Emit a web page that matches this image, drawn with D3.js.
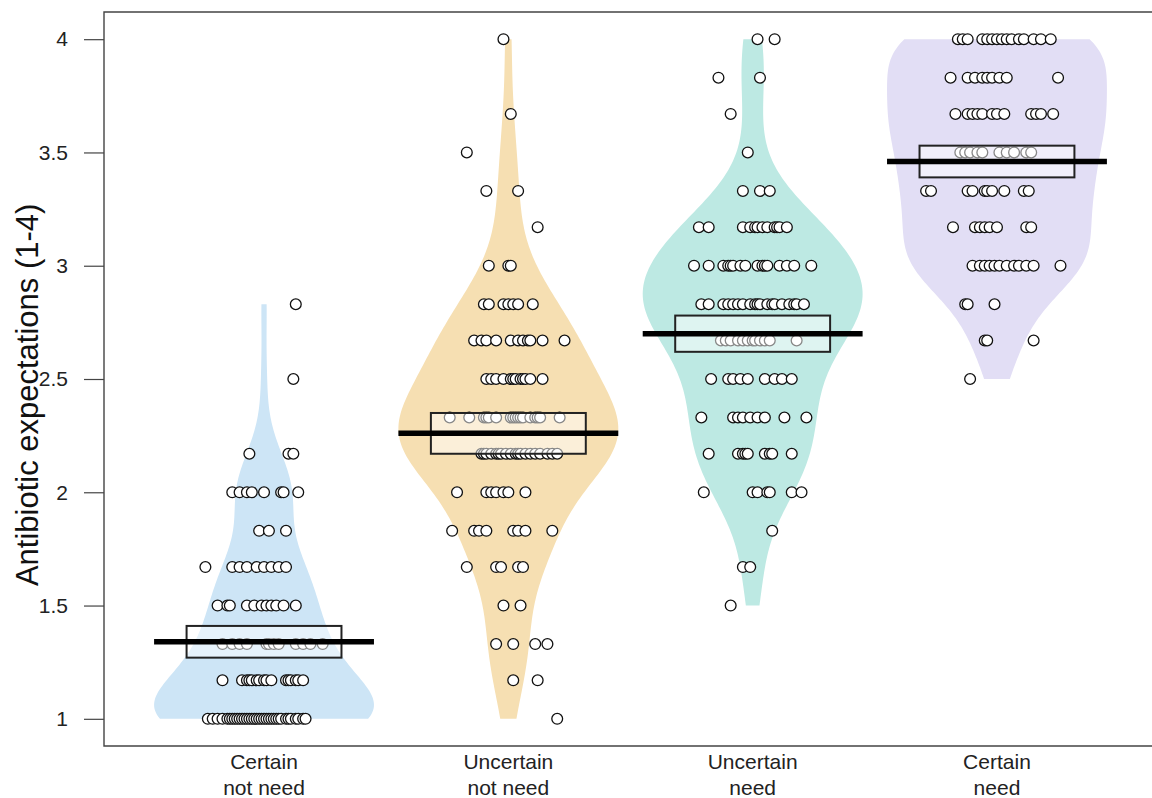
<!DOCTYPE html>
<html>
<head>
<meta charset="utf-8">
<script src="https://cdn.jsdelivr.net/npm/d3@7"></script>
<style>
    body { margin: 0; background: #fff; }
    #chart-area svg { display: block; font-family: "Liberation Sans", Arial, sans-serif; }
</style>
</head>
<body>
<div id="chart-area"></div>
<script>
// categories (two-line labels)
let categories = [["Certain", "not need"], ["Uncertain", "not need"], ["Uncertain", "need"], ["Certain", "need"]];

// raw responses per group: [value, horizontal jitter of each response (category units)]
let certainNotNeed = [
    [2.83, [0.13]],
    [2.5, [0.12]],
    [2.17, [-0.06, 0.10, 0.12]],
    [2, [-0.13, -0.10, -0.07, -0.05, 0.00, 0.07, 0.08, 0.14]],
    [1.83, [-0.02, 0.02, 0.09]],
    [1.67, [-0.24, -0.13, -0.10, -0.07, -0.03, 0.00, 0.03, 0.06, 0.09]],
    [1.5, [-0.19, -0.15, -0.14, -0.07, -0.04, -0.01, 0.01, 0.03, 0.05, 0.08, 0.13]],
    [1.33, [-0.17, -0.13, -0.10, -0.07, 0.01, 0.02, 0.04, 0.06, 0.13, 0.16, 0.19, 0.24]],
    [1.17, [-0.17, -0.09, -0.07, -0.06, -0.05, -0.03, -0.02, 0.00, 0.01, 0.03, 0.09, 0.10, 0.11, 0.13, 0.14, 0.16]],
    [1, [-0.23, -0.21, -0.19, -0.17, -0.15, -0.14, -0.13, -0.12, -0.11, -0.10, -0.09, -0.08, -0.07, -0.06, -0.05, -0.04,
        -0.03, -0.02, -0.01, 0.00, 0.01, 0.02, 0.03, 0.04, 0.05, 0.06, 0.07, 0.09, 0.10, 0.11, 0.13, 0.14, 0.16, 0.17]]
];
let uncertainNotNeed = [
    [4, [-0.02]],
    [3.67, [0.01]],
    [3.5, [-0.17]],
    [3.33, [-0.09, 0.04]],
    [3.17, [0.12]],
    [3, [-0.08, 0.00, 0.01]],
    [2.83, [-0.10, -0.08, -0.02, 0.00, 0.02, 0.04, 0.10]],
    [2.67, [-0.14, -0.11, -0.09, -0.05, 0.01, 0.04, 0.06, 0.08, 0.09, 0.14, 0.23]],
    [2.5, [-0.09, -0.07, -0.05, -0.02, 0.01, 0.02, 0.03, 0.05, 0.06, 0.07, 0.09, 0.14]],
    [2.33, [-0.24, -0.16, -0.10, -0.09, -0.08, -0.05, 0.01, 0.02, 0.03, 0.04, 0.05, 0.06, 0.09, 0.11, 0.12, 0.13, 0.21]],
    [2.17, [-0.11, -0.10, -0.09, -0.07, -0.05, -0.04, -0.03, -0.01, 0.01, 0.03, 0.04, 0.05, 0.07, 0.09, 0.11,
        0.13, 0.16, 0.18, 0.20]],
    [2, [-0.21, -0.09, -0.07, -0.05, -0.02, 0.00, 0.07]],
    [1.83, [-0.23, -0.14, -0.12, -0.09, 0.02, 0.04, 0.07, 0.18]],
    [1.67, [-0.17, -0.05, -0.03, 0.04, 0.06]],
    [1.5, [-0.02, 0.05]],
    [1.33, [-0.05, 0.02, 0.11, 0.16]],
    [1.17, [0.02, 0.12]],
    [1, [0.20]]
];
let uncertainNeed = [
    [4, [0.02, 0.09]],
    [3.83, [-0.14, 0.03]],
    [3.67, [-0.09]],
    [3.5, [-0.02]],
    [3.33, [-0.04, 0.03, 0.07]],
    [3.17, [-0.22, -0.18, -0.04, -0.01, 0.01, 0.02, 0.04, 0.06, 0.09, 0.10, 0.11, 0.14]],
    [3, [-0.24, -0.18, -0.12, -0.10, -0.09, -0.08, -0.05, -0.03, 0.02, 0.04, 0.05, 0.06, 0.11, 0.14, 0.17, 0.24]],
    [2.83, [-0.21, -0.18, -0.12, -0.10, -0.08, -0.06, -0.04, -0.01, 0.01, 0.02, 0.03, 0.06, 0.08, 0.09, 0.12, 0.15,
        0.17, 0.18, 0.21]],
    [2.67, [-0.13, -0.11, -0.09, -0.06, -0.04, -0.02, 0.00, 0.01, 0.03, 0.05, 0.07, 0.18]],
    [2.5, [-0.17, -0.10, -0.08, -0.05, -0.02, 0.05, 0.09, 0.12, 0.16]],
    [2.33, [-0.21, -0.08, -0.06, -0.04, -0.01, 0.02, 0.05, 0.13, 0.22]],
    [2.17, [-0.18, -0.06, -0.04, -0.03, -0.02, 0.05, 0.07, 0.08, 0.16]],
    [2, [-0.20, 0.00, 0.02, 0.06, 0.07, 0.16, 0.20]],
    [1.83, [0.08]],
    [1.67, [-0.04, -0.01]],
    [1.5, [-0.09]]
];
let certainNeed = [
    [4, [-0.16, -0.14, -0.12, -0.06, -0.04, -0.02, 0.00, 0.02, 0.04, 0.06, 0.09, 0.11, 0.15, 0.18, 0.22]],
    [3.83, [-0.19, -0.12, -0.09, -0.06, -0.04, -0.02, 0.01, 0.04, 0.25]],
    [3.67, [-0.17, -0.12, -0.10, -0.08, -0.06, -0.02, 0.00, 0.03, 0.14, 0.16, 0.18, 0.23]],
    [3.5, [-0.15, -0.13, -0.11, -0.08, -0.06, 0.01, 0.04, 0.07, 0.12, 0.14]],
    [3.33, [-0.29, -0.27, -0.12, -0.10, -0.05, -0.04, -0.02, 0.03, 0.11, 0.13]],
    [3.17, [-0.18, -0.09, -0.07, -0.05, -0.03, 0.00, 0.12, 0.14]],
    [3, [-0.10, -0.07, -0.05, -0.03, -0.01, 0.01, 0.04, 0.07, 0.09, 0.12, 0.15, 0.26]],
    [2.83, [-0.13, -0.12, -0.01]],
    [2.67, [-0.05, -0.04, 0.15]],
    [2.5, [-0.11]]
];

// group averages and inference band
let groupMeans = [1.34, 2.26, 2.70, 3.46];
let bandLower = [1.27, 2.17, 2.62, 3.39];
let bandUpper = [1.41, 2.35, 2.78, 3.53];

let yTicks = [1, 1.5, 2, 2.5, 3, 3.5, 4];

let violinColors = ["#cde5f6", "#f6dfb2", "#bde9e3", "#e2def5"];


class PiratePlot {

    constructor(parentElement, groups){
        this.parentElement = parentElement;
        this.groups = groups;
        this.initVis();
    }

    initVis(){
        let vis = this;

        vis.width = 1152;
        vis.height = 798;

        vis.svg = d3.select("#" + vis.parentElement).append("svg")
            .attr("width", vis.width)
            .attr("height", vis.height);

        vis.x = d3.scaleLinear()
            .domain([0.345, 4.655])
            .range([104, 1157]);

        vis.y = d3.scaleLinear()
            .domain([0.88, 4.12])
            .range([746, 12]);

        // plot frame
        vis.svg.append("path")
            .attr("d", `M1160,12H104V746H1160`)
            .attr("fill", "none")
            .attr("stroke", "#444")
            .attr("stroke-width", 1.4);

        vis.yAxis = d3.axisLeft(vis.y)
            .tickValues(yTicks)
            .tickFormat(d3.format("~g"))
            .tickSize(20)
            .tickPadding(16);

        vis.svg.append("g")
            .attr("class", "y-axis axis")
            .attr("transform", "translate(104,0)")
            .call(vis.yAxis)
            .call(g => g.select(".domain").remove())
            .call(g => g.selectAll("line").attr("stroke", "#444").attr("stroke-width", 1.2))
            .call(g => g.selectAll("text")
                .attr("font-size", 21)
                .attr("fill", "#222")
                .attr("font-family", "Liberation Sans, Arial, sans-serif"));

        // y title
        vis.svg.append("text")
            .attr("transform", `translate(38, ${vis.y(2.43)}) rotate(-90)`)
            .attr("text-anchor", "middle")
            .attr("font-size", 31)
            .attr("fill", "#111")
            .text("Antibiotic expectations (1-4)");

        // category labels
        let labels = vis.svg.append("g").attr("class", "x-labels");
        categories.forEach((lines, i) => {
            let t = labels.append("text")
                .attr("x", vis.x(i + 1))
                .attr("y", 769)
                .attr("text-anchor", "middle")
                .attr("font-size", 21)
                .attr("fill", "#222");
            lines.forEach((l, k) => {
                t.append("tspan")
                    .attr("x", vis.x(i + 1))
                    .attr("dy", k === 0 ? 0 : 26)
                    .text(l);
            });
        });

        vis.wrangleData();
    }

    wrangleData(){
        let vis = this;

        vis.displayData = vis.groups.map((rows, i) => {
            let points = [];
            rows.forEach(([v, jit]) => jit.forEach(j => points.push({value: v, jitter: j})));
            let values = points.map(d => d.value);

            // Gaussian kernel density, R's bw.nrd0 bandwidth, truncated at the data range
            let n = values.length;
            let sd = d3.deviation(values);
            let sorted = values.slice().sort(d3.ascending);
            let iqr = d3.quantile(sorted, 0.75) - d3.quantile(sorted, 0.25);
            let lo = Math.min(sd, iqr / 1.34) || sd || 1;
            let bw = 0.9 * lo * Math.pow(n, -0.2);

            let min = d3.min(values), max = d3.max(values);
            let grid = d3.range(0, 201).map(k => min + (max - min) * k / 200);
            let dens = grid.map(g => ({
                value: g,
                d: d3.sum(values, v => Math.exp(-0.5 * Math.pow((g - v) / bw, 2)))
            }));
            let peak = d3.max(dens, d => d.d);
            dens.forEach(d => d.w = d.d / peak * 0.45);

            return {pos: i + 1, points: points, density: dens, mean: groupMeans[i],
                lower: bandLower[i], upper: bandUpper[i], color: violinColors[i]};
        });

        vis.updateVis();
    }

    updateVis(){
        let vis = this;

        let area = d3.area()
            .x0(d => vis.x(d.pos - d.w))
            .x1(d => vis.x(d.pos + d.w))
            .y(d => vis.y(d.value));

        vis.svg.append("clipPath")
            .attr("id", "plot-clip")
            .append("rect")
            .attr("x", 105).attr("y", 13)
            .attr("width", 1060).attr("height", 732);

        let plot = vis.svg.append("g")
            .attr("clip-path", "url(#plot-clip)");

        // violins
        plot.selectAll(".bean")
            .data(vis.displayData)
            .join("path")
            .attr("class", "bean")
            .attr("d", g => area(g.density.map(d => ({pos: g.pos, w: d.w, value: d.value}))))
            .attr("fill", g => g.color);

        // raw points
        plot.selectAll(".pt-group")
            .data(vis.displayData)
            .join("g")
            .attr("class", "pt-group")
            .selectAll("circle")
            .data(g => g.points.map(p => ({x: g.pos + p.jitter, value: p.value})))
            .join("circle")
            .attr("cx", d => vis.x(d.x))
            .attr("cy", d => vis.y(d.value))
            .attr("r", 5.4)
            .attr("fill", "#fff")
            .attr("stroke", "#111")
            .attr("stroke-width", 1.3);

        // inference band
        plot.selectAll(".band")
            .data(vis.displayData)
            .join("rect")
            .attr("class", "band")
            .attr("x", d => vis.x(d.pos - 0.317))
            .attr("width", d => vis.x(d.pos + 0.317) - vis.x(d.pos - 0.317))
            .attr("y", d => vis.y(d.upper))
            .attr("height", d => vis.y(d.lower) - vis.y(d.upper))
            .attr("fill", "#fff")
            .attr("fill-opacity", 0.5)
            .attr("stroke", "#222")
            .attr("stroke-width", 2);

        // mean line
        plot.selectAll(".avg")
            .data(vis.displayData)
            .join("line")
            .attr("class", "avg")
            .attr("x1", d => vis.x(d.pos - 0.45))
            .attr("x2", d => vis.x(d.pos + 0.45))
            .attr("y1", d => vis.y(d.mean))
            .attr("y2", d => vis.y(d.mean))
            .attr("stroke", "#000")
            .attr("stroke-width", 5.5);
    }
}

let chart = new PiratePlot("chart-area", [certainNotNeed, uncertainNotNeed, uncertainNeed, certainNeed]);
</script>
</body>
</html>
